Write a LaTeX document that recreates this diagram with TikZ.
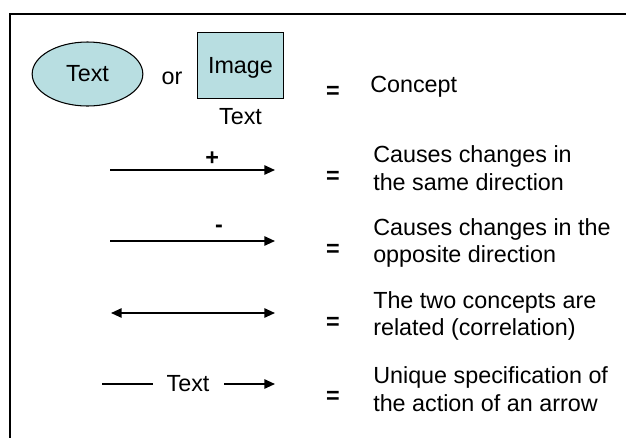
\documentclass[tikz,border=0pt]{standalone}
\usepackage{fontspec}
\setmainfont{Liberation Sans}
\usepackage{tikz}
\usetikzlibrary{arrows.meta,positioning,shapes.geometric}

\definecolor{conceptfill}{RGB}{184,222,225}

\begin{document}
\begin{tikzpicture}[x=0.75pt,y=-0.75pt,
  every node/.style={font=\fontsize{17.5pt}{20.5pt}\selectfont},
  concept/.style={ellipse,draw,line width=0.8pt,fill=conceptfill,minimum width=83pt,minimum height=48pt,inner sep=0pt},
  imagebox/.style={rectangle,draw,line width=0.8pt,fill=conceptfill,minimum width=65pt,minimum height=49pt,inner sep=0pt},
  meaning/.style={anchor=west,align=left,inner sep=0pt},
  link/.style={line width=1.3pt,-{Triangle[length=8pt,width=7pt]}},
  eqsign/.style={inner sep=0pt,font=\fontsize{17.5pt}{20.5pt}\selectfont\bfseries}]

\useasboundingbox (0,0) rectangle (626,437);
\clip (0,0) rectangle (626,437);
\draw[line width=1.6pt] (10,14) rectangle (660,470);

% concept
\node[concept] at (87.5,74) (C) {Text};
\node at (172,78) (or) {or};
\node[imagebox] at (240.5,65.5) (I) {};
\node at (240.5,68) (Iname) {Image};
\node[below=4pt of I] (Itext) {Text};
\node[eqsign] at (333,92) (e1) {=};
\node[meaning] at (370,87) (m1) {Concept};

% same direction
\coordinate (a1) at (110,170);
\coordinate (b1) at (275,170);
\draw[link] (a1) -- (b1) node[eqsign,pos=0.62,above=3pt] (plus) {+};
\node[eqsign] at (333,177) (e2) {=};
\node[meaning] at (373,168) (m2) {Causes changes in\\the same direction};

% opposite direction
\coordinate (a2) at (110,241);
\coordinate (b2) at (275,241);
\draw[link] (a2) -- (b2) node[eqsign,pos=0.66,above=6pt] (minus) {-};
\node[eqsign] at (333,250) (e3) {=};
\node[meaning] at (373,243) (m3) {Causes changes in the\\opposite direction};

% correlation
\coordinate (a3) at (111,313);
\coordinate (b3) at (275,313);
\draw[link,{Triangle[length=8pt,width=7pt]}-{Triangle[length=8pt,width=7pt]}] (a3) -- (b3);
\node[eqsign] at (333,323) (e4) {=};
\node[meaning] at (373,316) (m4) {The two concepts are\\related (correlation)};

% labelled arrow
\node at (188,384) (lbl) {Text};
\coordinate (a4) at (102,384);
\coordinate (b4) at (275,384);
\draw[line width=1.3pt] (a4) -- (153,384);
\draw[link] (224,384) -- (b4);
\node[eqsign] at (333,397) (e5) {=};
\node[meaning] at (373,389) (m5) {Unique specification of\\the action of an arrow};
\end{tikzpicture}
\end{document}
